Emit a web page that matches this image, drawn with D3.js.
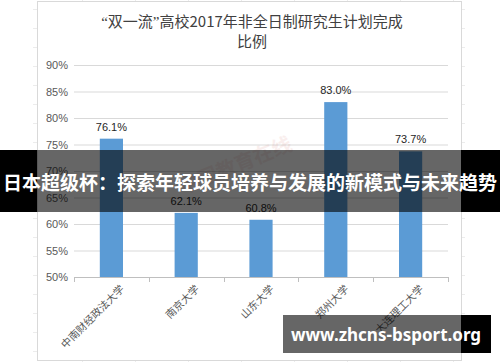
<!DOCTYPE html>
<html lang="zh">
<head>
  <meta charset="UTF-8">
  <title>“双一流”高校2017年非全日制研究生计划完成比例</title>
  <script src="https://d3js.org/d3.v7.min.js"></script>
  <style>
    body { margin: 0; background: #fff; }
    svg { display: block; }
    .title { font-family: "Noto Sans CJK SC", sans-serif; font-size: 15px; fill: #404040; text-anchor: middle; }
    .title .q { font-family: "Liberation Serif", serif; }
    .ytick text { font-family: "Liberation Sans", Arial, sans-serif; font-size: 11px; fill: #595959; }
    .xlabel { font-family: "Noto Sans CJK SC", sans-serif; font-size: 10.5px; fill: #595959; }
    .val { font-family: "Liberation Sans", Arial, sans-serif; font-size: 11px; fill: #262626; text-anchor: middle; }
  </style>
</head>
<body>
<svg width="500" height="362"></svg>
<script>
  // data
  const schools = ["中南财经政法大学", "南京大学", "山东大学", "郑州大学", "大连理工大学"];
  const rates = [76.1, 62.1, 60.8, 83.0, 73.7];
  const yTicks = [50, 55, 60, 65, 70, 75, 80, 85, 90];

  const svg = d3.select("svg");
  const W = 500, H = 362;
  const box = {x: 37, y: 1, w: 424, h: 359};
  const plot = {left: 74, right: 448, top: 65, bottom: 277};

  // faint spreadsheet grid behind the chart
  const bg = svg.append("g").attr("stroke", "#ececec").attr("stroke-width", 1);
  d3.range(82, 500, 53).forEach(x => bg.append("line")
      .attr("x1", x + 0.5).attr("x2", x + 0.5).attr("y1", 0).attr("y2", H));
  d3.range(9, 362, 19).forEach(y => bg.append("line")
      .attr("x1", 33).attr("x2", 37).attr("y1", y + 0.5).attr("y2", y + 0.5));
  d3.range(9, 362, 19).forEach(y => bg.append("line")
      .attr("x1", 461).attr("x2", 465).attr("y1", y + 0.5).attr("y2", y + 0.5));

  // chart box
  svg.append("rect")
      .attr("x", box.x + 0.5).attr("y", box.y + 0.5)
      .attr("width", box.w).attr("height", box.h)
      .attr("fill", "#fff").attr("stroke", "#d9d9d9");

  // title
  const title = svg.append("text").attr("class", "title");
  const l1 = title.append("tspan").attr("x", 252).attr("y", 27);
  l1.append("tspan").attr("class", "q").text("“");
  l1.append("tspan").text("双一流");
  l1.append("tspan").attr("class", "q").text("”");
  l1.append("tspan").text("高校2017年非全日制研究生计划完成");
  title.append("tspan").attr("x", 252).attr("y", 47).text("比例");

  const x = d3.scaleBand()
      .domain(schools)
      .range([plot.left, plot.right])
      .paddingInner(0.69)
      .paddingOuter(0.345);

  const y = d3.scaleLinear()
      .domain([50, 90])
      .range([plot.bottom, plot.top]);

  // grid lines + y labels
  const yAxis = svg.append("g")
      .attr("class", "ytick")
      .attr("transform", `translate(${plot.left},0)`)
      .call(d3.axisLeft(y).tickValues(yTicks).tickSize(-(plot.right - plot.left))
        .tickPadding(6).tickFormat(d => d + "%"));
  yAxis.select(".domain").remove();
  yAxis.selectAll("line").attr("stroke", "#d9d9d9");

  // x axis
  const xAxis = svg.append("g")
      .attr("transform", `translate(0,${plot.bottom})`);
  xAxis.append("line")
      .attr("x1", plot.left).attr("x2", plot.right)
      .attr("y1", 0.5).attr("y2", 0.5)
      .attr("stroke", "#bfbfbf");
  const step = x.step();
  d3.range(schools.length + 1).forEach(i => {
    const tx = Math.round(plot.left + i * step) + 0.5;
    xAxis.append("line").attr("x1", tx).attr("x2", tx)
        .attr("y1", 0).attr("y2", 5).attr("stroke", "#bfbfbf");
  });

  xAxis.selectAll(".xlabel")
      .data(schools)
      .enter()
      .append("text")
      .attr("class", "xlabel")
      .attr("text-anchor", "end")
      .attr("transform", d => `translate(${x(d) + x.bandwidth() / 2 + 11},${10}) rotate(-45)`)
      .attr("dy", "0.35em")
      .text(d => d);

  // bars
  const data = schools.map((s, i) => ({school: s, rate: rates[i]}));
  svg.selectAll(".bar")
      .data(data)
      .enter()
      .append("rect")
      .attr("class", "bar")
      .attr("x", d => x(d.school))
      .attr("y", d => y(d.rate))
      .attr("width", x.bandwidth())
      .attr("height", d => plot.bottom - y(d.rate))
      .attr("fill", "#5b9bd5");

  svg.selectAll(".val")
      .data(data)
      .enter()
      .append("text")
      .attr("class", "val")
      .attr("x", d => x(d.school) + x.bandwidth() / 2)
      .attr("y", d => y(d.rate) - 8)
      .text(d => d.rate.toFixed(1) + "%");

  // faint watermark
  svg.append("text")
      .attr("transform", "translate(238,172) rotate(-22)")
      .attr("text-anchor", "middle")
      .style("font-family", "Noto Sans CJK SC, sans-serif")
      .style("font-size", "20px")
      .style("font-weight", "bold")
      .attr("fill", "#c0392b")
      .attr("opacity", 0.08)
      .text("中国教育在线");

  // overlay banner
  svg.append("rect").attr("x", 0).attr("y", 150).attr("width", box.x).attr("height", 62).attr("fill", "#000");
  svg.append("rect").attr("x", box.x + box.w).attr("y", 150).attr("width", W - box.x - box.w).attr("height", 62).attr("fill", "#000");
  svg.append("rect").attr("x", box.x).attr("y", 150).attr("width", box.w).attr("height", 62).attr("fill", "rgba(0,0,0,0.6)");
  svg.append("text")
      .attr("x", 250).attr("y", 183)
      .attr("dy", "0.35em")
      .attr("text-anchor", "middle")
      .style("font-family", "Noto Sans CJK SC, sans-serif")
      .style("font-size", "19px")
      .style("font-weight", "bold")
      .attr("fill", "#fff")
      .text("日本超级杯：探索年轻球员培养与发展的新模式与未来趋势");

  // site label
  svg.append("rect").attr("x", 283).attr("y", 315).attr("width", box.x + box.w - 283).attr("height", 38).attr("fill", "rgba(0,0,0,0.6)");
  svg.append("rect").attr("x", box.x + box.w).attr("y", 315).attr("width", 491 - box.x - box.w).attr("height", 38).attr("fill", "#000");
  svg.append("text")
      .attr("x", 386).attr("y", 335)
      .attr("dy", "0.35em")
      .attr("text-anchor", "middle")
      .style("font-family", "Noto Sans, sans-serif")
      .style("font-size", "17px")
      .style("font-weight", "bold")
      .attr("fill", "#fff")
      .text("www.zhcns-bsport.org");
</script>
</body>
</html>
